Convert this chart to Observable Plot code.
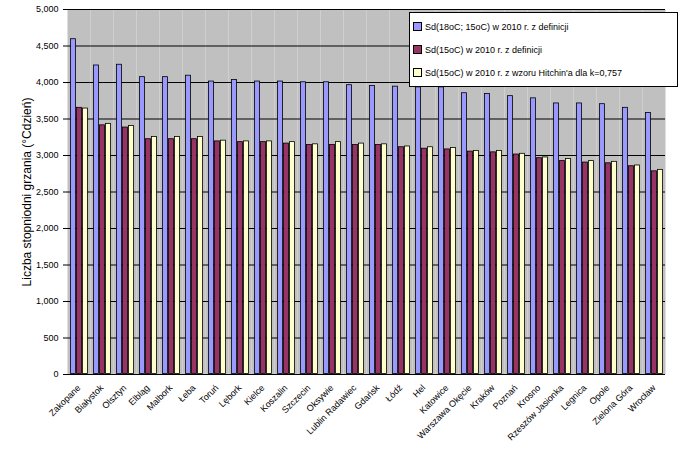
<!DOCTYPE html>
<html><head><meta charset="utf-8">
<script src="https://cdn.jsdelivr.net/npm/d3@7"></script>
<script src="https://cdn.jsdelivr.net/npm/@observablehq/plot@0.6"></script>
<style>
body{margin:0;background:#fff;font-family:Arial,"Liberation Sans",sans-serif}
#wrap{position:relative;width:678px;height:455px}
#legend{position:absolute;left:409px;top:12px;width:261px;background:#fff;border:1px solid #000;font-size:9px;padding:2px 3px;z-index:2}
#legend div{display:flex;align-items:center;height:23px}
#legend span{display:inline-block;width:7px;height:7px;border:1px solid #000;margin-right:3px}
</style></head><body><div id="wrap"><div id="legend"></div></div>
<script>
const cities=["Zakopane","Białystok","Olsztyn","Elbląg","Malbork","Łeba","Toruń","Lębork","Kielce","Koszalin","Szczecin","Oksywie","Lublin Radawiec","Gdańsk","Łódź","Hel","Katowice","Warszawa Okęcie","Kraków","Poznań","Krosno","Rzeszów Jasionka","Legnica","Opole","Zielona Góra","Wrocław"];
const seriesNames=["Sd(18oC; 15oC) w 2010 r. z definicji","Sd(15oC) w 2010 r. z definicji","Sd(15oC) w 2010 r. z wzoru Hitchin'a dla k=0,757"];
const s1=[4600,4240,4250,4080,4080,4100,4020,4040,4020,4020,4010,4010,3970,3960,3950,3940,3940,3860,3850,3820,3790,3720,3720,3710,3660,3590];
const s2=[3660,3420,3390,3230,3230,3230,3200,3190,3190,3170,3150,3150,3150,3150,3120,3100,3090,3060,3050,3020,2970,2930,2910,2900,2860,2790];
const s3=[3650,3440,3410,3260,3260,3260,3210,3200,3200,3190,3160,3190,3170,3160,3130,3120,3110,3070,3070,3030,2980,2960,2930,2920,2870,2810];
const colors=["#9999ff","#993366","#ffffcc"];
const yTicks=[0,500,1000,1500,2000,2500,3000,3500,4000,4500,5000];
const data=[];
cities.forEach((c,i)=>[s1,s2,s3].forEach((s,j)=>data.push({city:c,series:seriesNames[j],v:s[i]})));
const chart=Plot.plot({
  width:678,height:455,marginLeft:60,marginRight:6,marginTop:9,marginBottom:81,
  style:{fontFamily:"Arial, 'Liberation Sans', sans-serif",fontSize:"9px",background:"transparent"},
  fx:{domain:cities,padding:0,label:null,tickRotate:-45,tickSize:0},
  x:{domain:seriesNames,axis:null,paddingInner:0,paddingOuter:0.3},
  y:{domain:[0,5000],ticks:yTicks,tickFormat:d=>d,label:"Liczba stopniodni grzania (°Cdzień)",labelAnchor:"center",labelOffset:45,tickSize:4,labelArrow:"none"},
  color:{domain:seriesNames,range:colors},
  marks:[
    Plot.frame({fill:"#c0c0c0"}),
    Plot.ruleY(yTicks,{stroke:"#000",strokeWidth:1}),
    Plot.barY(data,{fx:"city",x:"series",y:"v",fill:"series",stroke:"#000",strokeWidth:0.8,inset:0.5})
  ]
});
chart.style.position="absolute";chart.style.left="0";chart.style.top="0";
const ylab=chart.querySelector("[aria-label='y-axis label'] text");if(ylab)ylab.setAttribute("font-size","12");
document.getElementById("wrap").prepend(chart);
const lg=document.getElementById("legend");
seriesNames.forEach((n,i)=>{const d=document.createElement("div");d.innerHTML=`<span style="background:${colors[i]}"></span>${n}`;lg.appendChild(d);});
</script></body></html>
